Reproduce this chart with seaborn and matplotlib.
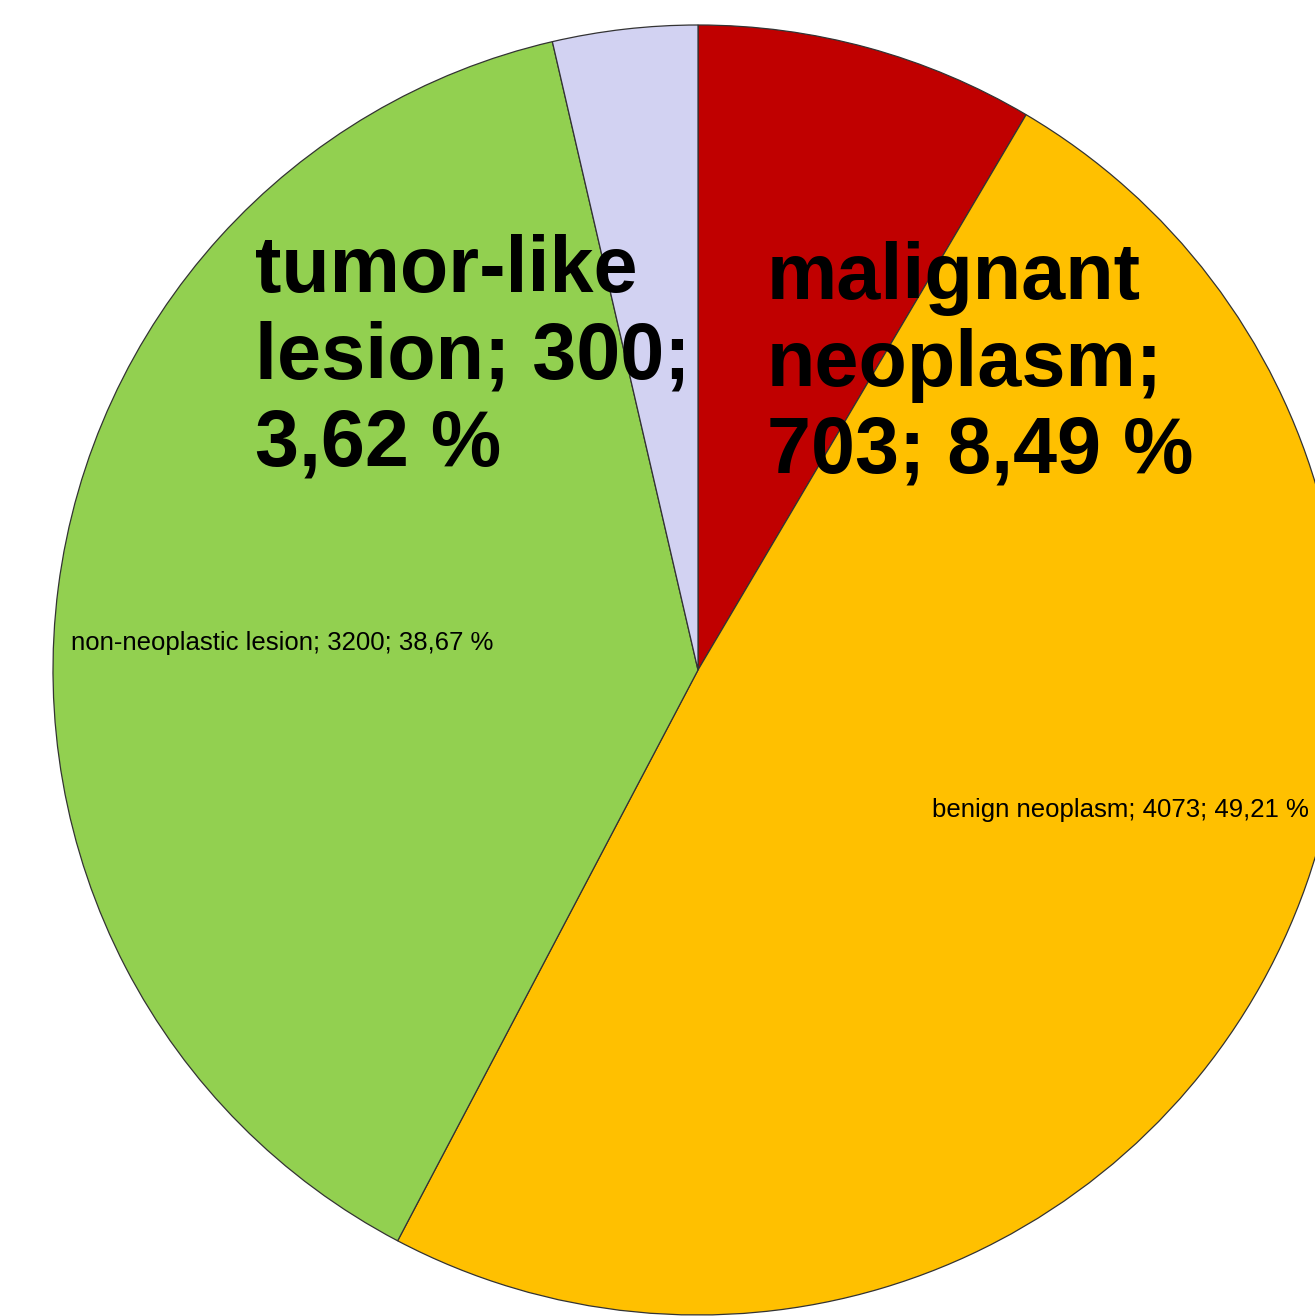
import numpy as np
import matplotlib
matplotlib.use('Agg')
import matplotlib.pyplot as plt
import seaborn as sns

# data
categories = ['malignant neoplasm', 'benign neoplasm', 'non-neoplastic lesion', 'tumor-like lesion']
counts = [703, 4073, 3200, 300]
colors = ['#C00000', '#FFC000', '#92D050', '#D2D2F2']

sns.set_theme(style='white')
plt.rcParams['font.family'] = ['Liberation Sans', 'DejaVu Sans']

fig = plt.figure(figsize=(13.15, 13.16), dpi=100)
ax = fig.add_axes([0, 0, 1, 1])

# pie in pixel coordinates (y counted from bottom)
cx, cy, r = 698, 1316 - 670, 645
ax.pie(counts, colors=colors, startangle=90, counterclock=False,
       center=(cx, cy), radius=r, frame=True,
       wedgeprops=dict(edgecolor='#333333', linewidth=0.9))
ax.set_xlim(0, 1315)
ax.set_ylim(0, 1316)
ax.set_aspect('equal')
ax.axis('off')

total = sum(counts)
def label(i):
    pct = counts[i] / total * 100
    return categories[i], counts[i], f'{pct:.2f}'.replace('.', ',') + ' %'

# big bold labels
name, n, p = label(3)
ax.text(255, 1316 - 234, f'tumor-like\nlesion; {n};\n{p}', ha='left', va='top',
        fontsize=57, fontweight='bold', linespacing=1.2, color='black')
name, n, p = label(0)
ax.text(767, 1316 - 241, f'malignant\nneoplasm;\n{n}; {p}', ha='left', va='top',
        fontsize=57, fontweight='bold', linespacing=1.2, color='black')

# small labels
name, n, p = label(2)
ax.text(71, 1316 - 643, f'{name}; {n}; {p}', ha='left', va='center',
        fontsize=18.5, color='black')
name, n, p = label(1)
ax.text(932, 1316 - 810, f'{name}; {n}; {p}', ha='left', va='center',
        fontsize=18.5, color='black')

fig.savefig('out.png', dpi=100, facecolor='white')
